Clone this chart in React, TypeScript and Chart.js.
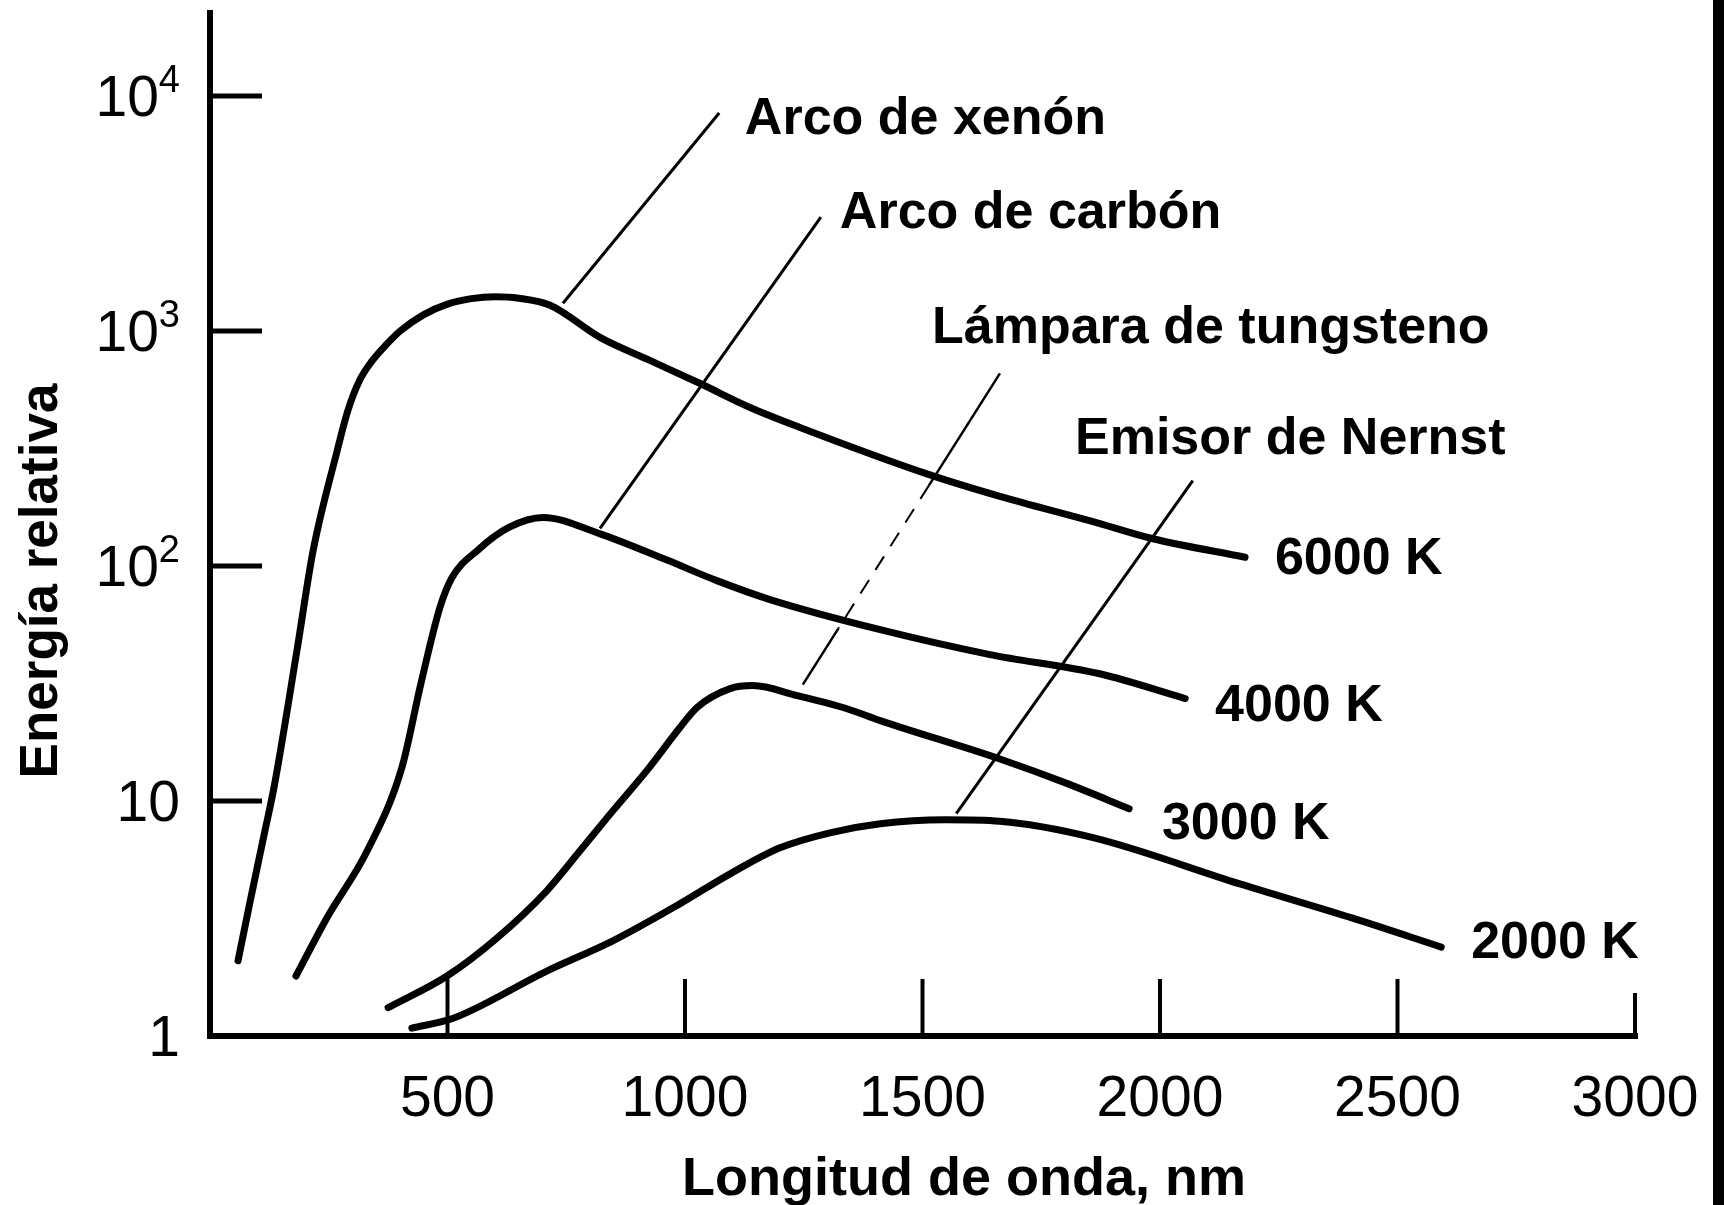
import React, { useEffect, useRef } from "react";
import { Chart, registerables } from "chart.js";

Chart.register(...registerables);

const W = 1724;
const H = 1205;
const FONT = '"Liberation Sans", Arial, Helvetica, sans-serif';

// ---- Data (wavelength in nm, relative energy) ----
const xenonNm = [59, 84, 114, 135, 183, 217, 268, 290, 315, 340, 370, 400, 450, 500, 550, 600, 650, 716, 821, 926, 1032, 1137, 1242, 1514, 1663, 1857, 1983, 2179];
const xenonE = [2.09, 3.7, 7.2, 11.5, 43.6, 116, 311, 457, 617, 741, 871, 1000, 1175, 1303, 1374, 1400, 1380, 1288, 940, 750, 598, 473, 389, 245, 198, 155, 131, 109];

const carbonNm = [181, 246, 331, 404, 444, 484, 509, 564, 629, 701, 821, 962, 1067, 1179, 1411, 1642, 1873, 2053];
const carbonE = [1.8, 3.18, 6.14, 13.9, 31.6, 66.6, 89, 117, 146, 161, 137, 106, 86.7, 72, 53.6, 42, 34.8, 27.3];

const tungstenNm = [375, 499, 604, 709, 779, 848, 920, 989, 1025, 1095, 1143, 1236, 1341, 1411, 1663, 1808, 1935];
const tungstenE = [1.32, 1.8, 2.61, 4.15, 6.14, 9.08, 13.5, 20.5, 25.0, 30.1, 31.0, 28.1, 24.7, 22.0, 15.1, 11.8, 9.27];

const nernstNm = [425, 512, 709, 848, 989, 1095, 1200, 1305, 1411, 1547, 1663, 1857, 2168, 2404, 2592];
const nernstE = [1.08, 1.19, 1.89, 2.54, 3.65, 4.9, 6.32, 7.32, 8.0, 8.32, 8.2, 7.0, 4.44, 3.18, 2.39];

// ---- Axes ----
const xMin = 0;
const xMax = 3000;
const yMin = 1;
const yMax = 22577;
const xTicks = [500, 1000, 1500, 2000, 2500, 3000];
const xTickLabels = ["500", "1000", "1500", "2000", "2500", "3000"];
const yTicks = [1, 10, 100, 1000, 10000];
const yTickBase = ["1", "10", "10", "10", "10"];
const yTickExp = ["", "", "2", "3", "4"];
const xTitle = "Longitud de onda, nm";
const yTitle = "Energía relativa";

// ---- Annotations (data coordinates) ----
const labelTexts = ["Arco de xenón", "Arco de carbón", "Lámpara de tungsteno", "Emisor de Nernst", "6000 K", "4000 K", "3000 K", "2000 K"];
const labelNm = [1126, 1326, 1520, 1821, 2242, 2116, 2004, 2655];
const labelE = [6887, 2741, 887, 301, 92.9, 22.0, 6.9, 2.15];

const leaderFromNm = [1072, 1286, 1663, 2069];
const leaderFromE = [8470, 3053, 661, 231];
const leaderToNm = [743, 821, 1248, 1571];
const leaderToE = [1313, 144.5, 31.3, 8.83];
// fraction of each leader drawn faint/broken (start, end); equal values = fully solid
const leaderBrokenFrom = [0, 0, 0.36, 0];
const leaderBrokenTo = [0, 0, 0.82, 0];

const series = [
  { nm: xenonNm, e: xenonE },
  { nm: carbonNm, e: carbonE },
  { nm: tungstenNm, e: tungstenE },
  { nm: nernstNm, e: nernstE },
];

const decor = {
  id: "decor",
  afterDatasetsDraw(chart: any) {
    const { ctx, chartArea } = chart;
    const xs = chart.scales.x;
    const ys = chart.scales.y;
    const px = (v: number) => xs.getPixelForValue(v);
    const py = (v: number) => ys.getPixelForValue(v);
    const x0 = px(xMin);
    const x1 = px(xMax);
    const yb = py(yMin);
    const yt = chartArea.top;

    ctx.save();
    ctx.strokeStyle = "#000";
    ctx.fillStyle = "#000";

    // axes
    ctx.lineWidth = 6;
    ctx.lineCap = "square";
    ctx.lineJoin = "miter";
    ctx.beginPath();
    ctx.moveTo(x0, yt);
    ctx.lineTo(x0, yb);
    ctx.lineTo(x1, yb);
    ctx.stroke();

    // y ticks (inward)
    ctx.lineWidth = 5;
    ctx.lineCap = "butt";
    yTicks.forEach((v) => {
      if (v === yMin) return;
      const y = py(v);
      ctx.beginPath();
      ctx.moveTo(x0, y);
      ctx.lineTo(x0 + 52, y);
      ctx.stroke();
    });

    // x ticks (inward)
    ctx.lineWidth = 4;
    xTicks.forEach((v, i) => {
      const x = px(v);
      const len = i === xTicks.length - 1 ? 43 : 57;
      ctx.beginPath();
      ctx.moveTo(x, yb);
      ctx.lineTo(x, yb - len);
      ctx.stroke();
    });

    // x tick labels
    ctx.font = `57px ${FONT}`;
    ctx.textAlign = "center";
    ctx.textBaseline = "alphabetic";
    xTicks.forEach((v, i) => {
      ctx.fillText(xTickLabels[i], px(v), yb + 80);
    });

    // y tick labels with superscripts
    const right = x0 - 30;
    yTicks.forEach((v, i) => {
      const y = py(v) + 20;
      ctx.font = `38px ${FONT}`;
      const ws = yTickExp[i] ? ctx.measureText(yTickExp[i]).width : 0;
      ctx.font = `57px ${FONT}`;
      const wb = ctx.measureText(yTickBase[i]).width;
      ctx.textAlign = "left";
      ctx.fillText(yTickBase[i], right - ws - wb, y);
      if (yTickExp[i]) {
        ctx.font = `38px ${FONT}`;
        ctx.fillText(yTickExp[i], right - ws, y - 24);
      }
    });

    // axis titles
    ctx.font = `bold 54px ${FONT}`;
    ctx.textAlign = "center";
    ctx.fillText(xTitle, 964, yb + 159);
    ctx.save();
    ctx.translate(57, 581);
    ctx.rotate(-Math.PI / 2);
    ctx.font = `bold 53px ${FONT}`;
    ctx.fillText(yTitle, 0, 0);
    ctx.restore();

    // leader lines
    ctx.lineCap = "butt";
    leaderFromNm.forEach((_, i) => {
      const ax = px(leaderFromNm[i]);
      const ay = py(leaderFromE[i]);
      const bx = px(leaderToNm[i]);
      const by = py(leaderToE[i]);
      const t1 = leaderBrokenFrom[i];
      const t2 = leaderBrokenTo[i];
      const at = (t: number) => [ax + (bx - ax) * t, ay + (by - ay) * t];
      const seg = (ta: number, tb: number, dash: number[], lw: number) => {
        const [sx, sy] = at(ta);
        const [ex, ey] = at(tb);
        ctx.setLineDash(dash);
        ctx.lineWidth = lw;
        ctx.beginPath();
        ctx.moveTo(sx, sy);
        ctx.lineTo(ex, ey);
        ctx.stroke();
      };
      if (t2 > t1) {
        seg(0, t1, [], 2.5);
        seg(t1, t2, [16, 12], 2);
        seg(t2, 1, [], 2.5);
      } else {
        seg(0, 1, [], 3);
      }
    });
    ctx.setLineDash([]);

    // curve labels
    ctx.font = `bold 52px ${FONT}`;
    ctx.textAlign = "left";
    labelTexts.forEach((t, i) => {
      ctx.fillText(t, px(labelNm[i]), py(labelE[i]));
    });

    // dark scan edge on the right
    ctx.fillRect(1713, 0, W - 1713, H);
    ctx.restore();
  },
};

export default function App() {
  const ref = useRef<HTMLCanvasElement | null>(null);
  useEffect(() => {
    if (!ref.current) return;
    const chart = new Chart(ref.current, {
      type: "scatter",
      data: {
        datasets: series.map((s) => ({
          data: s.nm.map((x, i) => ({ x, y: s.e[i] })),
          showLine: true,
          borderColor: "#000",
          backgroundColor: "#000",
          borderWidth: 7,
          pointRadius: 0,
          fill: false,
          cubicInterpolationMode: "monotone" as const,
          borderCapStyle: "round" as const,
          borderJoinStyle: "round" as const,
        })),
      },
      options: {
        responsive: false,
        animation: false,
        events: [],
        layout: { padding: { left: 210, right: W - 1635, top: 13, bottom: H - 1036 } },
        plugins: { legend: { display: false }, tooltip: { enabled: false } },
        scales: {
          x: { type: "linear", min: xMin, max: xMax, display: false },
          y: { type: "logarithmic", min: yMin, max: yMax, display: false },
        },
      },
      plugins: [decor],
    });
    return () => chart.destroy();
  }, []);
  return (
    <div style={{ position: "absolute", left: 0, top: 0, width: W, height: H, background: "#fff" }}>
      <canvas ref={ref} width={W} height={H} style={{ display: "block", width: W, height: H }} />
    </div>
  );
}
